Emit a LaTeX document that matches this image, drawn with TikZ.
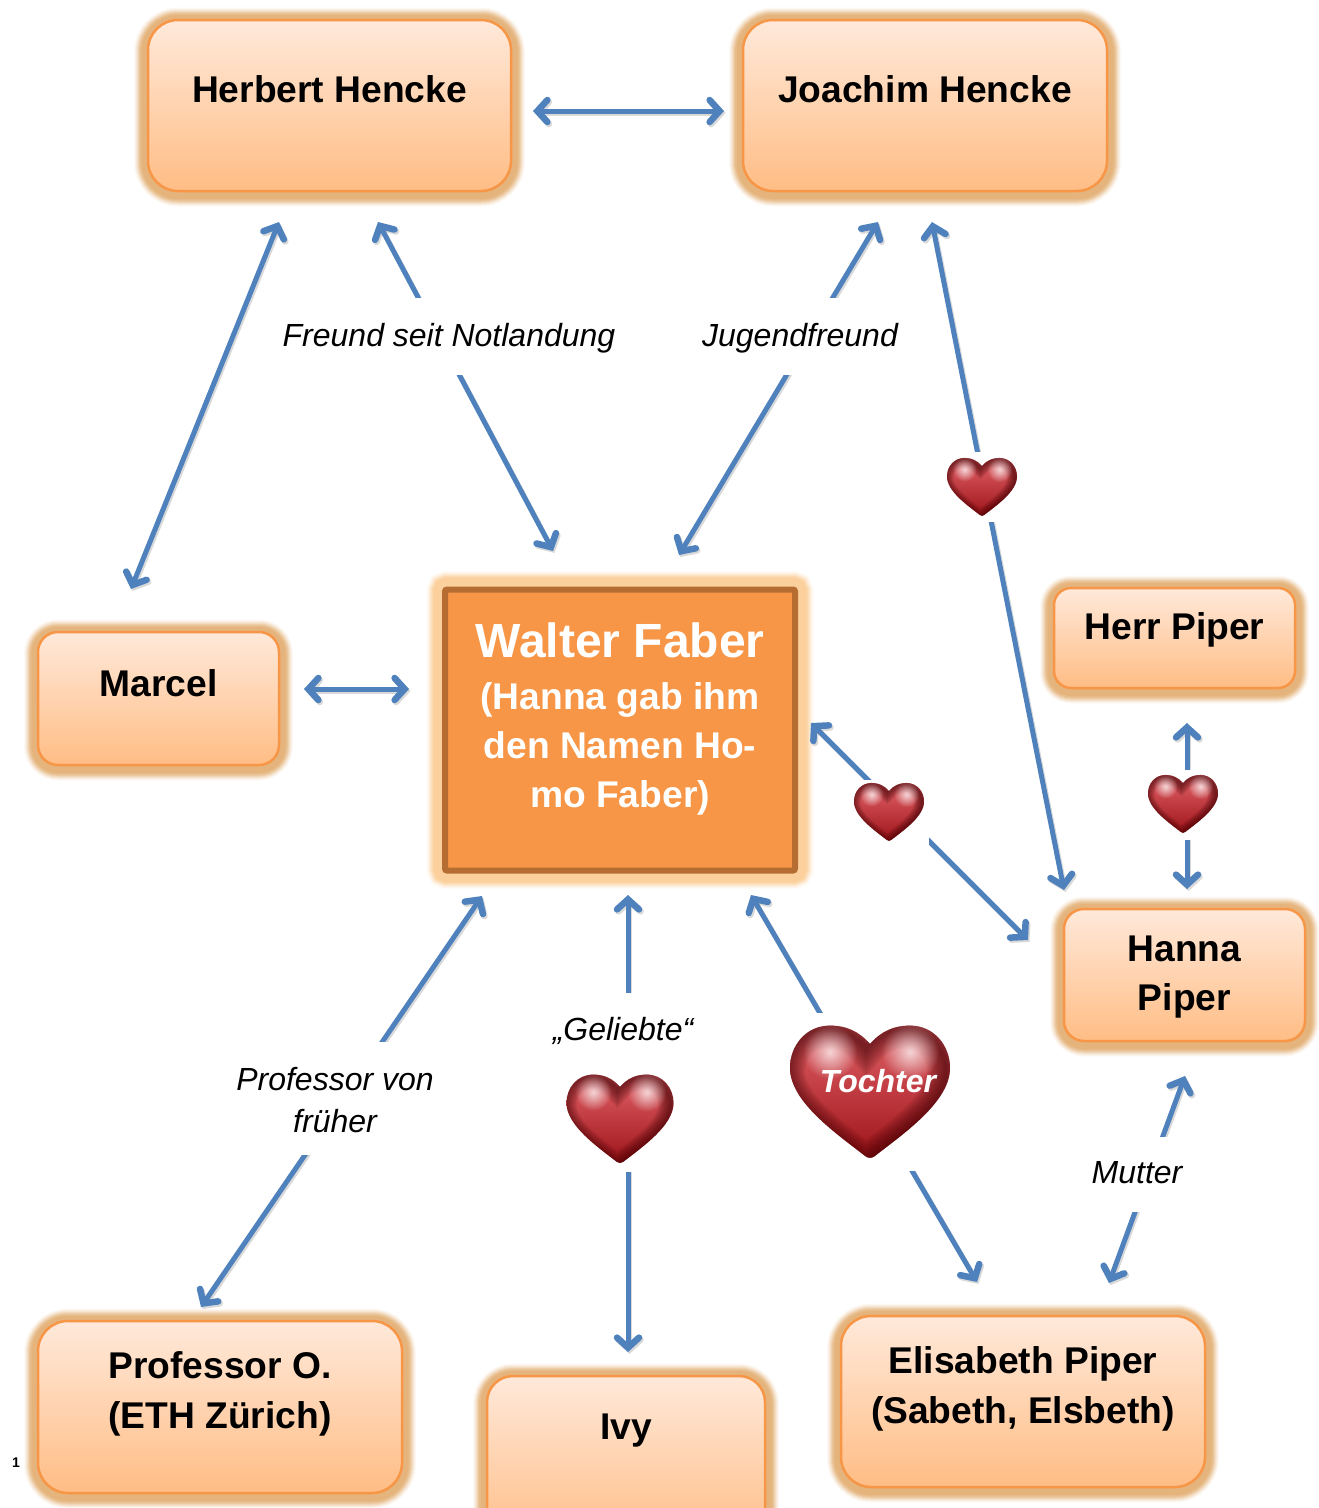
\documentclass[tikz,border=0pt]{standalone}
\usepackage{fontspec}
\setmainfont{Liberation Sans}
\usetikzlibrary{arrows.meta,fadings,calc}
\definecolor{boxtop}{HTML}{FFE9DA}
\definecolor{boxbot}{HTML}{FFBD85}
\definecolor{boxline}{HTML}{F79646}
\definecolor{glowc}{HTML}{E2AE72}
\definecolor{mainfill}{HTML}{F79646}
\definecolor{mainline}{HTML}{B66D31}
\definecolor{mainglow}{HTML}{FBCF9A}
\definecolor{conncol}{HTML}{4F81BD}
\definecolor{hearttop}{HTML}{E4666C}
\definecolor{heartmid}{HTML}{BE2C30}
\definecolor{heartbot}{HTML}{9A1015}
\definecolor{heartdark}{HTML}{3E0003}
\tikzfading[name=softspot,inner color=transparent!25,outer color=transparent!100]
\tikzset{
  x=1pt,y=-1pt,
  glowlayer/.style 2 args={preaction={draw=glowc,draw opacity=#2,line width=#1,transform canvas={yshift=-1.5pt}}},
  glowing/.style={
    glowlayer={28pt}{.07},glowlayer={26pt}{.1},glowlayer={24pt}{.14},glowlayer={22pt}{.18},
    glowlayer={20pt}{.24},glowlayer={18pt}{.32},glowlayer={16pt}{.42},glowlayer={13pt}{.6}},
  mainlayer/.style 2 args={preaction={draw=mainglow,draw opacity=#2,line width=#1}},
  mainglowing/.style={
    mainlayer={37pt}{.08},mainlayer={35pt}{.1},mainlayer={33pt}{.14},mainlayer={31pt}{.2},
    mainlayer={29pt}{.28},mainlayer={27pt}{.38},mainlayer={25pt}{.5},mainlayer={23pt}{.8}},
  person/.style n args={3}{
    shape=rectangle,rounded corners=#3,minimum width=#1,minimum height=#2,inner sep=0pt,
    glowing,top color=boxtop,bottom color=boxbot,draw=boxline,line width=2.5pt},
  persontext/.style={font=\fontsize{37.2}{49.7}\selectfont\bfseries,align=center,text=black,inner sep=0pt},
  mainbox/.style={shape=rectangle,rounded corners=2pt,minimum width=350pt,minimum height=281pt,inner sep=0pt,
    mainglowing,fill=mainfill,draw=mainline,line width=6pt},
  maintext/.style={font=\fontsize{37.2}{49}\selectfont\bfseries,align=center,text=white,inner sep=0pt},
  conntip/.style={{Straight Barb[length=10pt,width=22pt,line width=6.5pt,line cap=round,line join=miter]}-{Straight Barb[length=10pt,width=22pt,line width=6.5pt,line cap=round,line join=miter]}},
  conn/.style={draw=conncol,line width=5pt,line cap=round,conntip,
    preaction={draw=black,draw opacity=.15,line width=5pt,conntip,transform canvas={xshift=1.5pt,yshift=-2pt}}},
  rel/.style={font=\fontsize{32}{42}\selectfont\itshape,align=center,text=black,inner sep=0pt},
  patch/.style={fill=white,inner sep=0pt},
}
\newcommand{\heartoutline}{(0,-.6) .. controls (.14,-.76) and (.3,-.83) .. (.5,-.83) .. controls (.8,-.83) and (1,-.58) .. (1,-.3) .. controls (1,.12) and (.42,.52) .. (.06,.8) .. controls (.03,.83) and (-.03,.83) .. (-.06,.8) .. controls (-.42,.52) and (-1,.12) .. (-1,-.3) .. controls (-1,-.58) and (-.8,-.83) .. (-.5,-.83) .. controls (-.3,-.83) and (-.14,-.76) .. (0,-.6) -- cycle}
\newcommand{\drawheart}[3]{%
  \begin{scope}[shift={(#1,#2)},x=#3pt,y=-#3pt]
    \begin{scope}
      \clip \heartoutline;
      \shade[top color=hearttop,middle color=heartmid,bottom color=heartbot] (-1.1,-.9) rectangle (1.1,.9);
      \begin{scope}[xshift=-.05*#3 pt,yshift=-.05*#3 pt]
        \foreach \w in {.48,.44,...,.04}{
          \draw[heartdark,draw opacity=.075,line width=\w*#3 pt] \heartoutline;
        }
      \end{scope}
      \fill[white,path fading=softspot] (-.5,-.5) circle[radius=.34];
      \fill[white,path fading=softspot] (.5,-.5) circle[radius=.36];
    \end{scope}
  \end{scope}}
\begin{document}
\begin{tikzpicture}
\useasboundingbox (0,0) rectangle (1319,1508);
% boxes
\node[person={363pt}{171pt}{30pt},label={[persontext,yshift=16.5pt]center:Herbert Hencke}] (herbert) at (329.5,105.5) {};
\node[person={364pt}{171pt}{30pt},label={[persontext,yshift=16.5pt]center:Joachim Hencke}] (joachim) at (925,105.5) {};
\node[person={241pt}{133pt}{20pt},label={[persontext,yshift=15.5pt]center:Marcel}] (marcel) at (158.5,698.5) {};
\node[person={241pt}{100pt}{17pt},label={[persontext,yshift=8pt]center:Herr Piper}] (herrpiper) at (1174.5,638) {};
\node[person={241pt}{132pt}{20pt},label={[persontext,yshift=-2pt]center:Hanna\\Piper}] (hanna) at (1184.5,975) {};
\node[person={364pt}{172pt}{30pt},label={[persontext,yshift=13pt]center:Professor O.\\(ETH Zürich)}] (prof) at (220,1407) {};
\node[person={278pt}{170pt}{26pt},label={[persontext,yshift=30pt]center:Ivy}] (ivy) at (626,1461) {};
\node[person={364pt}{171pt}{30pt},label={[persontext,yshift=12.5pt]center:Elisabeth Piper\\(Sabeth, Elsbeth)}] (elisabeth) at (1023,1401.5) {};
\node[mainbox,label={[maintext,yshift=11pt]center:{\fontsize{48}{50}\selectfont Walter Faber}\\[3pt](Hanna gab ihm\\den Namen Ho-\\mo Faber)}] (walter) at (620,730) {};
% connector ends
\coordinate (c1a) at (533,111); \coordinate (c1b) at (724,111);
\coordinate (c2a) at (279,222); \coordinate (c2b) at (131,589);
\coordinate (c3a) at (378,222); \coordinate (c3b) at (553,551);
\coordinate (c4a) at (878,222); \coordinate (c4b) at (679,555);
\coordinate (c5a) at (932,222); \coordinate (c5b) at (1064,890);
\coordinate (c6a) at (304,689); \coordinate (c6b) at (409,689);
\coordinate (c7a) at (811,723); \coordinate (c7b) at (1028,940);
\coordinate (c8a) at (1187,723); \coordinate (c8b) at (1187,889);
\coordinate (c9a) at (482,896); \coordinate (c9b) at (201,1307);
\coordinate (c10a) at (628,895); \coordinate (c10b) at (628,1352);
\coordinate (c11a) at (751,895); \coordinate (c11b) at (977,1282);
\coordinate (c12a) at (1185,1076); \coordinate (c12b) at (1109,1283);
\draw[conn] (c1a) -- (c1b);
\draw[conn] (c2a) -- (c2b);
\draw[conn] (c3a) -- (c3b);
\draw[conn] (c4a) -- (c4b);
\draw[conn] (c5a) -- (c5b);
\draw[conn] (c6a) -- (c6b);
\draw[conn] (c7a) -- (c7b);
\draw[conn] (c8a) -- (c8b);
\draw[conn] (c9a) -- (c9b);
\draw[conn] (c10a) -- (c10b);
\draw[conn] (c11a) -- (c11b);
\draw[conn] (c12a) -- (c12b);
% relation labels
\node[patch,minimum height=77pt,minimum width=344pt] (p11) at (449,336.5) {};
\node[rel] (l1) at (449,338.5) {Freund seit Notlandung};
\node[patch,minimum height=77pt,minimum width=204pt] (p12) at (800,336.5) {};
\node[rel] (l2) at (800,338.5) {Jugendfreund};
\node[patch,minimum height=113pt,minimum width=204pt] (p13) at (335,1098.5) {};
\node[rel] (l3) at (335,1100.5) {Professor von\\früher};
\node[patch,minimum width=150pt,minimum height=179pt] (p14) at (623,1082.5) {};
\node[rel] (l4) at (623,1031) {„Geliebte“};
\node[patch,minimum height=75pt,minimum width=100pt] (p15) at (1137,1174.5) {};
\node[rel] (l5) at (1137,1172.5) {Mutter};
% hearts
\node[patch,minimum width=78pt,minimum height=70pt] (p1) at (983,487) {};
\drawheart{982}{487}{35}
\node[patch,minimum width=76pt,minimum height=68pt] (p2) at (891,814) {};
\drawheart{889}{812}{35}
\node[patch,minimum width=78pt,minimum height=70pt] (p3) at (1183,805) {};
\drawheart{1183}{804}{35}
\drawheart{620}{1119}{53.5}
\node[patch,minimum width=176pt,minimum height=158pt] (p5) at (873,1092) {};
\drawheart{870}{1092}{80}
\node[font=\fontsize{32}{32}\selectfont\bfseries\itshape,text=white,inner sep=0pt] (tochter) at (878,1081) {Tochter};
\node[font=\fontsize{14}{14}\selectfont\bfseries,inner sep=0pt] (pagenum) at (16,1463) {1};
\end{tikzpicture}
\end{document}
